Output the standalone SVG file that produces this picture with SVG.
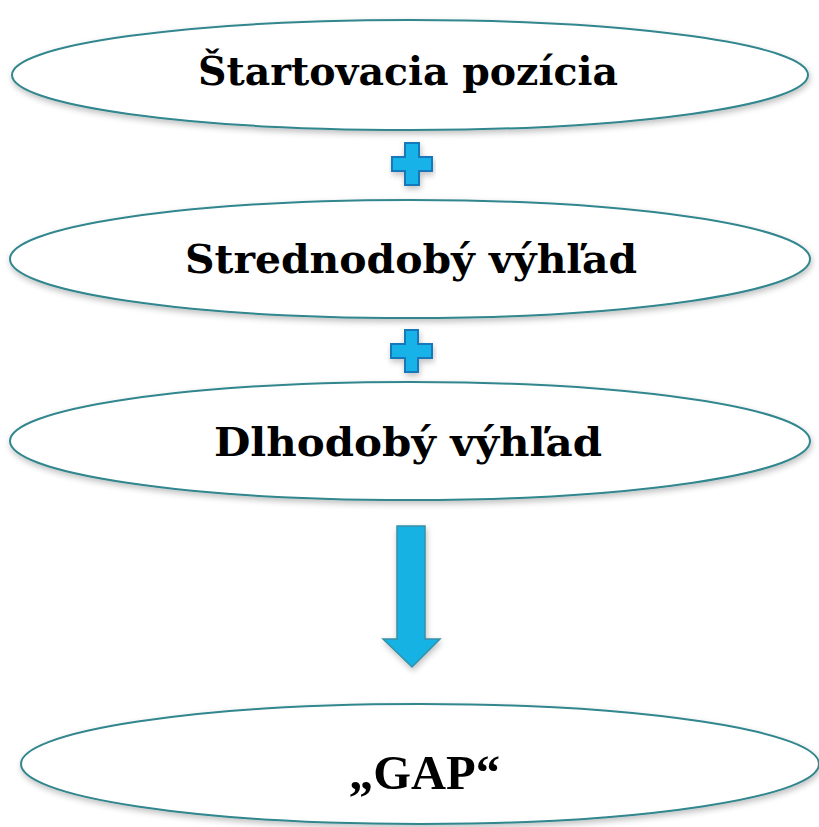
<svg xmlns="http://www.w3.org/2000/svg" width="819" height="827" viewBox="0 0 819 827">
<defs>
<filter id="sh" x="-10%" y="-30%" width="120%" height="160%">
<feGaussianBlur in="SourceAlpha" stdDeviation="3"/>
<feOffset dx="1" dy="3" result="b"/>
<feComponentTransfer><feFuncA type="linear" slope="0.25"/></feComponentTransfer>
<feMerge><feMergeNode/><feMergeNode in="SourceGraphic"/></feMerge>
</filter>
<style>
.el{fill:#fff;stroke:#31868E;stroke-width:2;filter:url(#sh)}
.t{font-family:"DejaVu Serif","Liberation Serif",serif;font-weight:bold;font-size:39px;fill:#000}
.g{font-family:"Liberation Serif",serif;font-weight:bold;font-size:48px;fill:#000}
.pl{fill:#15B2E8;stroke:#1678B8;stroke-width:2;filter:url(#sh)}
.ar{fill:#15B2E3;stroke:#3690A6;stroke-width:1.5;filter:url(#sh)}
</style>
</defs>
<g id="n1"><ellipse class="el" cx="410" cy="75" rx="398" ry="55"/><text class="t" x="198" y="85" textLength="420" lengthAdjust="spacingAndGlyphs">Štartovacia pozícia</text></g>
<g id="n2"><ellipse class="el" cx="410" cy="259" rx="400" ry="59"/><text class="t" x="185" y="273" textLength="452" lengthAdjust="spacingAndGlyphs">Strednodobý výhľad</text></g>
<g id="n3"><ellipse class="el" cx="410" cy="441" rx="400" ry="59"/><text class="t" x="214" y="456" textLength="388" lengthAdjust="spacingAndGlyphs">Dlhodobý výhľad</text></g>
<g id="n4"><ellipse class="el" cx="420" cy="764" rx="399" ry="60"/><text class="g" x="349" y="789" textLength="151" lengthAdjust="spacingAndGlyphs">„GAP“</text></g>
<g id="connectors">
<path class="pl" d="M405 143H419V157H432V171H419V185H405V171H392V157H405Z"/>
<path class="pl" d="M405 330H418V344H432V358H418V372H405V358H391V344H405Z"/>
<path class="ar" d="M397 526H425V639H440L412 667L383 639H397Z"/>
</g>
</svg>
